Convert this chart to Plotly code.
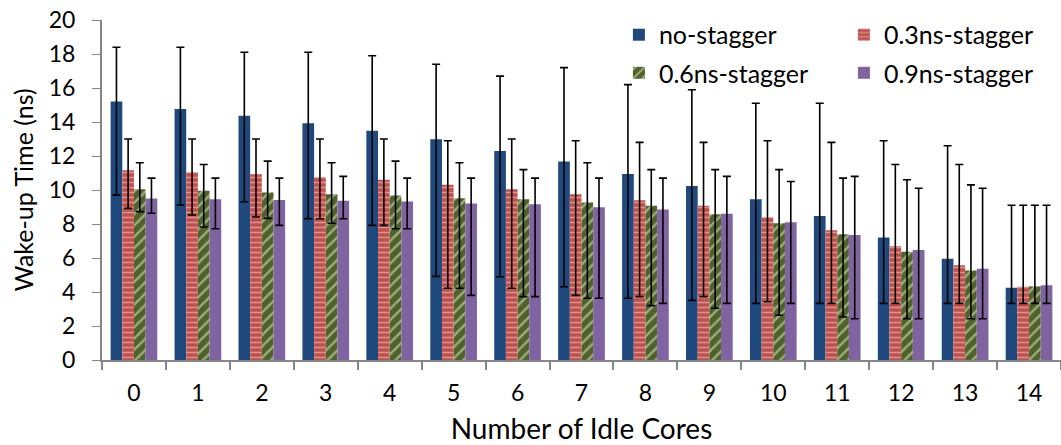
import plotly.graph_objects as go

cores = [str(i) for i in range(15)]

no_stagger = [15.2, 14.76, 14.37, 13.92, 13.49, 12.98, 12.3, 11.67, 10.94, 10.24, 9.45, 8.47, 7.2, 5.96, 4.25]
no_hi = [18.4, 18.4, 18.1, 18.1, 17.9, 17.4, 16.7, 17.2, 16.2, 15.9, 15.1, 15.1, 12.9, 12.6, 9.1]
no_lo = [9.7, 9.12, 9.31, 8.31, 7.92, 4.92, 4.9, 4.31, 3.63, 3.51, 3.33, 3.33, 3.33, 3.33, 3.33]

s03 = [11.16, 11.04, 10.92, 10.75, 10.6, 10.31, 10.04, 9.75, 9.39, 9.08, 8.39, 7.63, 6.69, 5.57, 4.31]
s03_hi = [13.0, 13.0, 13.0, 13.0, 13.0, 12.9, 13.0, 12.9, 12.8, 12.8, 12.9, 12.8, 11.5, 11.5, 9.1]
s03_lo = [8.92, 8.53, 8.41, 8.31, 7.92, 4.22, 4.22, 3.8, 3.73, 3.73, 3.43, 3.33, 3.33, 3.33, 3.33]

s06 = [10.04, 9.96, 9.86, 9.75, 9.67, 9.51, 9.45, 9.27, 9.08, 8.57, 8.04, 7.39, 6.37, 5.27, 4.33]
s06_hi = [11.6, 11.5, 11.7, 11.6, 11.7, 11.6, 11.2, 11.6, 11.2, 11.2, 11.2, 10.7, 10.6, 10.3, 9.1]
s06_lo = [8.73, 7.82, 8.33, 8.04, 7.72, 4.22, 3.73, 3.63, 3.2, 3.04, 2.63, 2.53, 2.43, 2.43, 3.33]

s09 = [9.5, 9.45, 9.41, 9.37, 9.33, 9.21, 9.16, 8.98, 8.86, 8.61, 8.1, 7.35, 6.47, 5.37, 4.39]
s09_hi = [10.7, 10.7, 10.7, 10.8, 10.7, 10.7, 10.7, 10.7, 10.7, 10.8, 10.5, 10.8, 10.1, 10.1, 9.1]
s09_lo = [8.63, 7.72, 7.92, 8.31, 7.72, 3.8, 3.73, 3.63, 3.33, 3.33, 3.33, 2.43, 2.43, 2.43, 3.33]

FONT = "Lato"
AX = "#868686"

series = [
    ("no-stagger", no_stagger, no_hi, no_lo, dict(color="#1F497D"), "legend"),
    ("0.3ns-stagger", s03, s03_hi, s03_lo,
     dict(color="#C0504D", pattern=dict(shape="-", fgcolor="#F2D7D6", bgcolor="#C0504D", size=5, solidity=0.3)), "legend"),
    ("0.6ns-stagger", s06, s06_hi, s06_lo,
     dict(color="#4F6228", pattern=dict(shape="/", fgcolor="#EEF3E0", bgcolor="#4F6228", size=8, solidity=0.3)), "legend2"),
    ("0.9ns-stagger", s09, s09_hi, s09_lo, dict(color="#8064A2"), "legend2"),
]

fig = go.Figure()
for name, vals, hi, lo, mk, lg in series:
    fig.add_trace(go.Bar(
        x=cores, y=vals, name=name, legend=lg,
        marker=dict(line=dict(width=0), **mk),
        error_y=dict(type="data", symmetric=False,
                     array=[h - v for h, v in zip(hi, vals)],
                     arrayminus=[v - l for v, l in zip(vals, lo)],
                     color="black", thickness=1.6, width=4),
    ))

legend_common = dict(orientation="h", xanchor="left", yanchor="middle",
                     font=dict(family=FONT, size=25, color="black"),
                     bgcolor="rgba(0,0,0,0)", entrywidth=180, entrywidthmode="pixels",
                     traceorder="normal")

fig.update_layout(
    width=1061, height=445,
    margin=dict(l=102, r=0, t=20, b=85, autoexpand=False),
    paper_bgcolor="white", plot_bgcolor="white",
    barmode="group", bargap=0.27, bargroupgap=0,
    font=dict(family=FONT, color="black"),
    legend=dict(x=0.539, y=0.956, **legend_common),
    legend2=dict(x=0.539, y=0.844, **legend_common),
    xaxis=dict(
        type="category", range=[-0.5, 14.5],
        showline=True, linecolor=AX, linewidth=2,
        ticks="outside", tickson="boundaries", ticklen=8, tickcolor=AX, tickwidth=2,
        tickfont=dict(family=FONT, size=23, color="black"), ticklabelstandoff=11,
        title=dict(text="Number of Idle Cores", font=dict(family=FONT, size=28, color="black"), standoff=15),
        showgrid=False,
    ),
    yaxis=dict(
        range=[0, 20], dtick=2, tick0=0,
        showline=True, linecolor=AX, linewidth=2,
        ticks="outside", ticklen=8, tickcolor=AX, tickwidth=1,
        tickfont=dict(family=FONT, size=23, color="black"), ticklabelstandoff=12,
        title=dict(text="Wake-up Time (ns)", font=dict(family=FONT, size=25, color="black"), standoff=8),
        showgrid=False, zeroline=False,
    ),
)

fig.write_html("out.html")
